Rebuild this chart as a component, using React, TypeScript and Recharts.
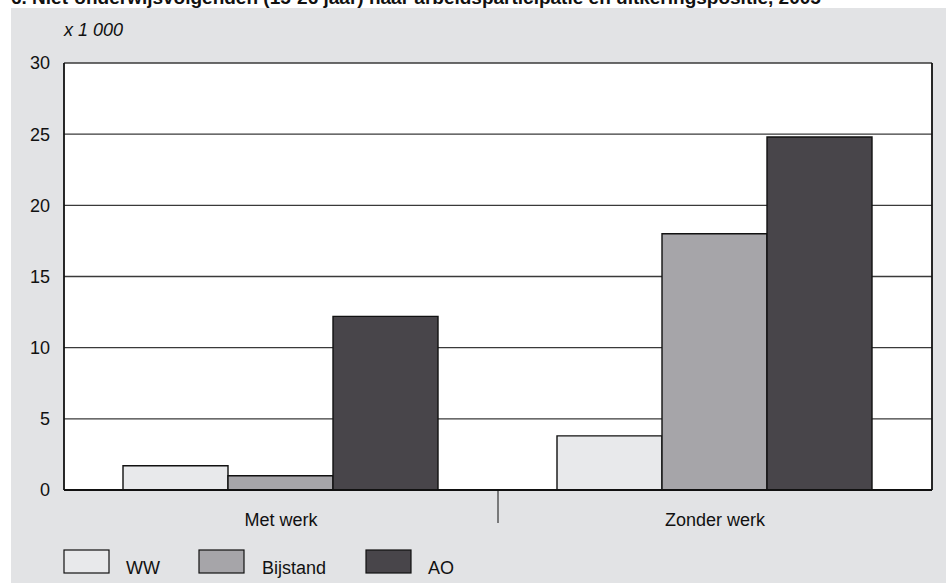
import React from 'react'
import { BarChart, Bar, XAxis, YAxis, CartesianGrid } from 'recharts'

const categories = ['Met werk', 'Zonder werk']
const ww = [1.7, 3.8]
const bijstand = [1.0, 18.0]
const ao = [12.2, 24.8]
const yTicks = [0, 5, 10, 15, 20, 25, 30]

const series = [
  { key: 'WW', values: ww, color: '#e8e9eb' },
  { key: 'Bijstand', values: bijstand, color: '#a6a5a9' },
  { key: 'AO', values: ao, color: '#48454a' },
]

const data = categories.map((name, i) => {
  const row: Record<string, string | number> = { name }
  series.forEach((s) => {
    row[s.key] = s.values[i]
  })
  return row
})

const font = '"Liberation Sans", Arial, sans-serif'

function CategoryTick(props: any) {
  const { x, y, payload, index } = props
  const half = payload && payload.offset ? payload.offset : 217
  return (
    <g>
      <text
        x={x}
        y={y + 28}
        textAnchor="middle"
        fontSize={18}
        fontFamily={font}
        fill="#111"
      >
        {payload.value}
      </text>
      {index === 0 && (
        <line x1={x + half} x2={x + half} y1={y - 8} y2={y + 25} stroke="#111" strokeWidth={1} />
      )}
    </g>
  )
}

function LegendBoxes() {
  const spots = [
    { box: 64, label: 126 },
    { box: 199, label: 262 },
    { box: 366, label: 428 },
  ]
  return (
    <svg width={600} height={40} style={{ display: 'block' }}>
      {series.map((s, i) => (
        <g key={s.key}>
          <rect
            x={spots[i].box}
            y={2}
            width={45}
            height={23}
            fill={s.color}
            stroke="#111"
            strokeWidth={1.2}
          />
          <text x={spots[i].label} y={26} fontSize={18} fontFamily={font} fill="#111">
            {s.key}
          </text>
        </g>
      ))}
    </svg>
  )
}

export default function App() {
  return (
    <div
      style={{
        position: 'absolute',
        left: 0,
        top: 0,
        width: 946,
        height: 583,
        overflow: 'hidden',
        background: '#fff',
        fontFamily: font,
      }}
    >
      <div
        style={{
          position: 'absolute',
          left: 11,
          top: -12,
          fontWeight: 'bold',
          fontSize: 19,
          lineHeight: '19px',
          whiteSpace: 'nowrap',
          color: '#111',
        }}
      >
        6. Niet-onderwijsvolgenden (15-26 jaar) naar arbeidsparticipatie en uitkeringspositie, 2005
      </div>
      <div
        style={{
          position: 'absolute',
          left: 11,
          top: 8,
          width: 935,
          height: 575,
          background: '#e2e3e5',
        }}
      />
      <div
        style={{
          position: 'absolute',
          left: 64,
          top: 20,
          fontStyle: 'italic',
          fontSize: 18,
          lineHeight: '20px',
          color: '#111',
        }}
      >
        x 1 000
      </div>
      <div style={{ position: 'absolute', left: 0, top: 0 }}>
        <BarChart
          width={946}
          height={583}
          data={data}
          margin={{ top: 63, right: 13, bottom: 63, left: 0 }}
          barCategoryGap={59}
          barGap={0}
        >
          <CartesianGrid vertical={false} stroke="#3a3a3a" strokeWidth={1.4} fill="#ffffff" />
          <XAxis
            dataKey="name"
            tickLine={false}
            axisLine={{ stroke: '#111', strokeWidth: 1.8 }}
            tick={<CategoryTick />}
            interval={0}
          />
          <YAxis
            domain={[0, 30]}
            ticks={yTicks}
            width={64}
            tickLine={false}
            axisLine={{ stroke: '#111', strokeWidth: 1.8 }}
            tick={{ fontSize: 18, fill: '#111', fontFamily: font, dx: -6 }}
          />
          <YAxis
            yAxisId="right"
            orientation="right"
            domain={[0, 30]}
            width={1}
            tick={false}
            tickLine={false}
            axisLine={{ stroke: '#111', strokeWidth: 1.8 }}
          />
          {series.map((s) => (
            <Bar
              key={s.key}
              dataKey={s.key}
              fill={s.color}
              stroke="#111"
              strokeWidth={1.4}
              isAnimationActive={false}
            />
          ))}
        </BarChart>
      </div>
      <div style={{ position: 'absolute', left: 0, top: 548 }}>
        <LegendBoxes />
      </div>
    </div>
  )
}
